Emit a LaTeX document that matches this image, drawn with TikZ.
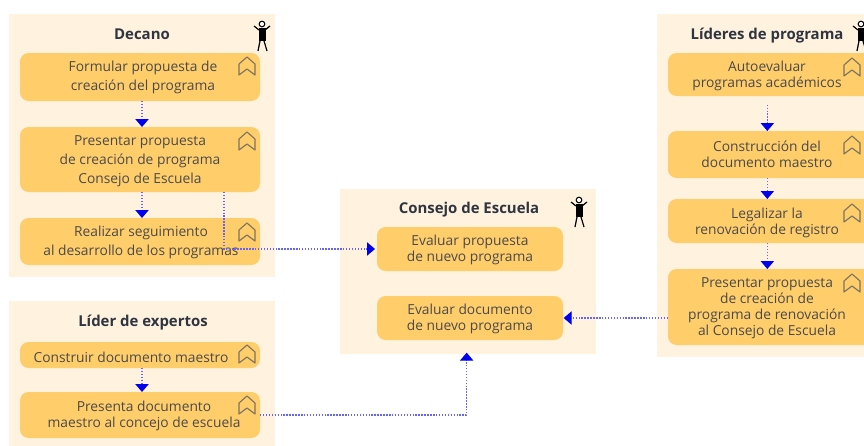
\documentclass[tikz,border=0pt]{standalone}
\usepackage{fontspec}
\setmainfont{Open Sans}
\usetikzlibrary{arrows.meta}
\definecolor{panelc}{HTML}{FFF2DF}
\definecolor{boxc}{HTML}{FFCE6B}
\definecolor{txtc}{HTML}{4A4A4A}
\definecolor{ttlc}{HTML}{2F3540}
\definecolor{iconc}{HTML}{7D7460}
\definecolor{flowc}{HTML}{0000F0}
\tikzset{
 x=0.75pt,y=-0.75pt,
 titletext/.style={font=\fontsize{11.2}{13}\selectfont\bfseries,text=ttlc,inner sep=0pt},
 actlabel/.style={font=\fontsize{10.35}{12}\selectfont,text=txtc,align=center,inner sep=0pt},
 widelabel/.style={actlabel,font=\fontsize{10.35}{14.25}\selectfont},
 flow/.style={draw=flowc!60!white,dash pattern=on 1.1pt off 1.1pt,line width=0.8pt,-{Triangle[length=6pt,width=10pt,color=flowc]}},
 actbox/.style={fill=boxc,rounded corners=6.5pt,inner sep=0pt,outer sep=0pt},
 panelbox/.style={fill=panelc,inner sep=0pt,outer sep=0pt},
 icon/.style={draw=iconc,line width=0.85pt,line join=round},
}
% \shapebox{style}{name}{x1}{y1}{x2}{y2}, pixel corners
\newcommand{\shapebox}[6]{%
 \pgfmathsetmacro{\bw}{0.75*(#5-#3)}\pgfmathsetmacro{\bh}{0.75*(#6-#4)}%
 \node[#1,minimum width=\bw pt,minimum height=\bh pt] (#2) at ({(#3+#5)/2},{(#4+#6)/2}) {};}
\newcommand{\chevron}[2]{%
 \draw[icon] (#1,#2) -- (#1+8,#2+7) -- (#1+8,#2+18) -- (#1,#2+12) -- (#1-8,#2+18) -- (#1-8,#2+7) -- cycle;}
\newcommand{\stick}[2]{%
 \fill[black] (#1-3.5,#2+7) rectangle (#1+3.5,#2+20);
 \draw[black,line width=0.8pt,fill=white] (#1,#2+3) circle (2.8);
 \draw[black,line width=0.9pt] (#1-3,#2+9) -- (#1-8,#2+5) (#1+3,#2+9) -- (#1+8,#2+5)
   (#1-2,#2+20) -- (#1-4,#2+30) (#1+2,#2+20) -- (#1+5,#2+30);}
\begin{document}
\begin{tikzpicture}
\useasboundingbox (0,0) rectangle (864,446);
\clip (0,0) rectangle (864,446);
% panels
\shapebox{panelbox}{pd}{9}{14}{275}{277}
\shapebox{panelbox}{pe}{9}{301}{275}{450}
\shapebox{panelbox}{pc}{340}{189}{596}{354}
\shapebox{panelbox}{pl}{657}{14}{880}{357}
% activity boxes
\shapebox{actbox}{d1}{20}{53}{260}{101}
\shapebox{actbox}{d2}{20}{127}{260}{192}
\shapebox{actbox}{d3}{20}{218}{260}{265}
\shapebox{actbox}{e1}{20}{342}{260}{368}
\shapebox{actbox}{e2}{20}{392}{260}{438}
\shapebox{actbox}{c1}{377}{227}{563}{271}
\shapebox{actbox}{c2}{377}{296}{563}{340}
\shapebox{actbox}{l1}{668}{53}{880}{96}
\shapebox{actbox}{l2}{668}{131}{880}{178}
\shapebox{actbox}{l3}{668}{199}{880}{243}
\shapebox{actbox}{l4}{668}{269}{880}{345}
% chevrons
\foreach \cx/\cy in {247/57,247/132,247/223,247/345,247/396,852/58,852/136,852/204,852/274}{\chevron{\cx}{\cy}}
% titles
\node[titletext] (tdecano) at (142,34.5) {Decano};
\node[titletext] (texpertos) at (143,323) {Líder de expertos};
\node[titletext] (tconsejo) at (469,209.5) {Consejo de Escuela};
\node[titletext] (tlideres) at (767,35.5) {Líderes de programa};
% labels
\node[widelabel] (ld1) at (143,77) {Formular propuesta de\\creación del programa};
\node[widelabel] (ld2) at (140,161) {Presentar propuesta\\de creación de programa\\Consejo de Escuela};
\node[widelabel] (ld3) at (141,242) {Realizar seguimiento\\al desarrollo de los programas};
\node[actlabel] (le1) at (131,357) {Construir documento maestro};
\node[actlabel] (le2) at (144,415.5) {Presenta documento\\maestro al concejo de escuela};
\node[actlabel] (lc1) at (470,250) {Evaluar propuesta\\de nuevo programa};
\node[actlabel] (lc2) at (470,319) {Evaluar documento\\de nuevo programa};
\node[actlabel] (ll1) at (767,76) {Autoevaluar\\programas académicos};
\node[actlabel] (ll2) at (767,154) {Construcción del\\documento maestro};
\node[actlabel] (ll3) at (767,222.5) {Legalizar la\\renovación de registro};
\node[actlabel] (ll4) at (767,308.5) {Presentar propuesta\\de creación de\\programa de renovación\\al Consejo de Escuela};
% connectors
\draw[flow] ([xshift=1.5pt]d1.south) -- ([xshift=1.5pt]d2.north);
\draw[flow] ([xshift=1.5pt]d2.south) -- ([xshift=1.5pt]d3.north);
\draw[flow] ([xshift=1.5pt]e1.south) -- ([xshift=1.5pt]e2.north);
\draw[flow] ([xshift=-5pt,yshift=-6.5pt]l1.south) -- ([xshift=-5pt]l2.north);
\draw[flow] ([xshift=-5pt]l2.south) -- ([xshift=-5pt]l3.north);
\draw[flow] ([xshift=-5pt]l3.south) -- ([xshift=-5pt]l4.north);
\coordinate (s1) at (224,192);
\draw[flow] (s1) |- ([xshift=-1.5pt]c1.west);
\draw[flow] (e2.east) -| ([xshift=-1pt,yshift=1pt]pc.south);
\draw[flow] (c2.east -| l4.west) -- ([xshift=0.5pt]c2.east);
% actors
\stick{262}{21}
\stick{579}{197}
\stick{861}{21}
\end{tikzpicture}
\end{document}
